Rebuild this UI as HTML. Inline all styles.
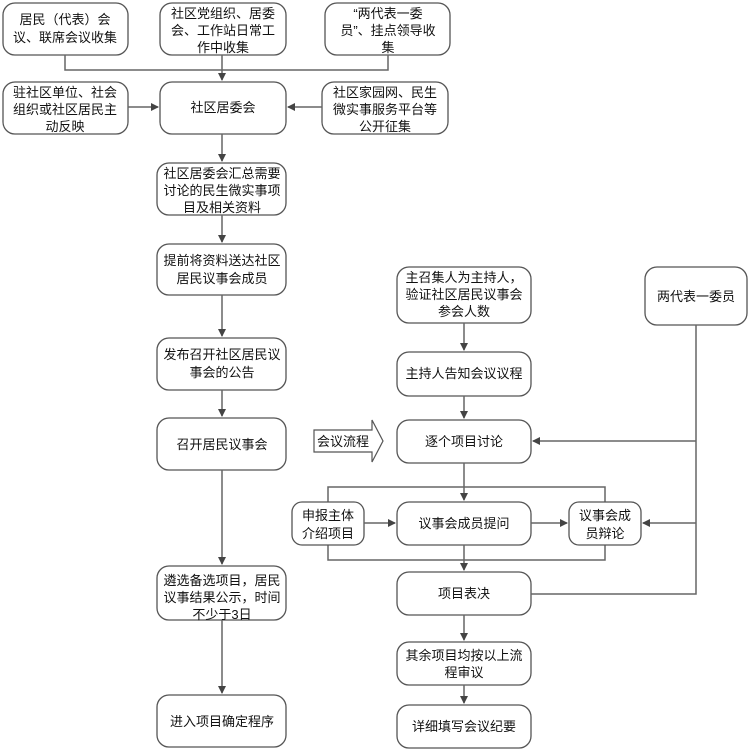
<!DOCTYPE html>
<html><head><meta charset="utf-8"><style>
html,body{margin:0;padding:0;background:#fff;}
svg{display:block}
text{font-family:"Liberation Sans","Noto Sans CJK SC","WenQuanYi Zen Hei",sans-serif;font-size:13px;fill:#111;text-anchor:middle}
.b{fill:#fff;stroke:#555;stroke-width:1.3}
.l{stroke:#666;stroke-width:1.5;fill:none}
</style></head><body>
<svg width="751" height="755" viewBox="0 0 751 755" xmlns="http://www.w3.org/2000/svg">
<defs><marker id="a" markerWidth="8" markerHeight="8" refX="7" refY="4" orient="auto" markerUnits="userSpaceOnUse"><path d="M0,0 L8,4 L0,8 z" fill="#444"/></marker></defs>
<!-- top row -->
<rect class="b" x="3" y="3" width="125" height="52" rx="12"/>
<text x="65" y="24">居民（代表）会</text><text x="65" y="42">议、联席会议收集</text>
<rect class="b" x="160" y="3" width="126" height="52" rx="12"/>
<text x="223" y="18">社区党组织、居委</text><text x="223" y="35">会、工作站日常工</text><text x="223" y="52">作中收集</text>
<rect class="b" x="325" y="3" width="125" height="52" rx="12"/>
<text x="388" y="18">“两代表一委</text><text x="388" y="35">员”、挂点领导收</text><text x="388" y="52">集</text>
<path class="l" d="M65,55 V70 H388 V55"/>
<path class="l" d="M222,55 V80" marker-end="url(#a)"/>
<!-- row2 -->
<rect class="b" x="3" y="82" width="125" height="52" rx="12"/>
<text x="65" y="97">驻社区单位、社会</text><text x="65" y="114">组织或社区居民主</text><text x="65" y="131">动反映</text>
<rect class="b" x="160" y="82" width="126" height="52" rx="12"/>
<text x="223" y="112">社区居委会</text>
<rect class="b" x="322" y="82" width="126" height="52" rx="12"/>
<text x="385" y="97">社区家园网、民生</text><text x="385" y="114">微实事服务平台等</text><text x="385" y="131">公开征集</text>
<path class="l" d="M128,107 H158" marker-end="url(#a)"/>
<path class="l" d="M322,107 H288" marker-end="url(#a)"/>
<path class="l" d="M222,134 V161" marker-end="url(#a)"/>
<!-- left column -->
<rect class="b" x="157" y="163" width="129" height="52" rx="12"/>
<text x="222" y="178">社区居委会汇总需要</text><text x="222" y="195">讨论的民生微实事项</text><text x="222" y="212">目及相关资料</text>
<path class="l" d="M222,215 V242" marker-end="url(#a)"/>
<rect class="b" x="157" y="244" width="129" height="51" rx="12"/>
<text x="222" y="265">提前将资料送达社区</text><text x="222" y="283">居民议事会成员</text>
<path class="l" d="M222,295 V336" marker-end="url(#a)"/>
<rect class="b" x="157" y="338" width="129" height="52" rx="12"/>
<text x="222" y="359">发布召开社区居民议</text><text x="222" y="377">事会的公告</text>
<path class="l" d="M222,390 V416" marker-end="url(#a)"/>
<rect class="b" x="157" y="418" width="129" height="52" rx="12"/>
<text x="222" y="449">召开居民议事会</text>
<path class="l" d="M222,470 V564" marker-end="url(#a)"/>
<rect class="b" x="157" y="566" width="129" height="54" rx="12"/>
<text x="222" y="585">遴选备选项目，居民</text><text x="222" y="602">议事结果公示，时间</text><text x="222" y="619">不少于3日</text>
<path class="l" d="M222,620 V693" marker-end="url(#a)"/>
<rect class="b" x="157" y="695" width="129" height="52" rx="12"/>
<text x="222" y="726">进入项目确定程序</text>
<!-- right column -->
<rect class="b" x="397" y="267" width="134" height="56" rx="12"/>
<text x="464" y="282">主召集人为主持人，</text><text x="464" y="299">验证社区居民议事会</text><text x="464" y="316">参会人数</text>
<path class="l" d="M464,323 V350" marker-end="url(#a)"/>
<rect class="b" x="397" y="352" width="134" height="44" rx="12"/>
<text x="464" y="378">主持人告知会议议程</text>
<path class="l" d="M464,396 V418" marker-end="url(#a)"/>
<rect class="b" x="397" y="420" width="134" height="43" rx="12"/>
<text x="464" y="446">逐个项目讨论</text>
<path d="M314,430 H372 V420 L383,441 L372,462 V452 H314 z" fill="#fff" stroke="#555" stroke-width="1.2"/>
<text x="343" y="446">会议流程</text>
<path class="l" d="M464,463 V500" marker-end="url(#a)"/>
<path class="l" d="M328,502 V487 H605 V502"/>
<path class="l" d="M328,545 V560 H605 V545"/>
<rect class="b" x="292" y="502" width="72" height="43" rx="10"/>
<text x="328" y="520">申报主体</text><text x="328" y="538">介绍项目</text>
<rect class="b" x="397" y="502" width="134" height="43" rx="12"/>
<text x="464" y="528">议事会成员提问</text>
<rect class="b" x="569" y="502" width="72" height="43" rx="10"/>
<text x="605" y="520">议事会成</text><text x="605" y="538">员辩论</text>
<path class="l" d="M364,523 H395" marker-end="url(#a)"/>
<path class="l" d="M531,523 H567" marker-end="url(#a)"/>
<path class="l" d="M464,545 V570" marker-end="url(#a)"/>
<rect class="b" x="397" y="572" width="134" height="43" rx="12"/>
<text x="464" y="598">项目表决</text>
<path class="l" d="M464,615 V640" marker-end="url(#a)"/>
<rect class="b" x="397" y="642" width="134" height="43" rx="12"/>
<text x="464" y="660">其余项目均按以上流</text><text x="464" y="677">程审议</text>
<path class="l" d="M464,685 V703" marker-end="url(#a)"/>
<rect class="b" x="397" y="705" width="134" height="43" rx="12"/>
<text x="464" y="731">详细填写会议纪要</text>
<!-- 两代表一委员 -->
<rect class="b" x="645" y="267" width="102" height="58" rx="12"/>
<text x="696" y="301">两代表一委员</text>
<path class="l" d="M696,325 V594 H531"/>
<path class="l" d="M696,441 H533" marker-end="url(#a)"/>
<path class="l" d="M696,523 H643" marker-end="url(#a)"/>
</svg>
</body></html>
